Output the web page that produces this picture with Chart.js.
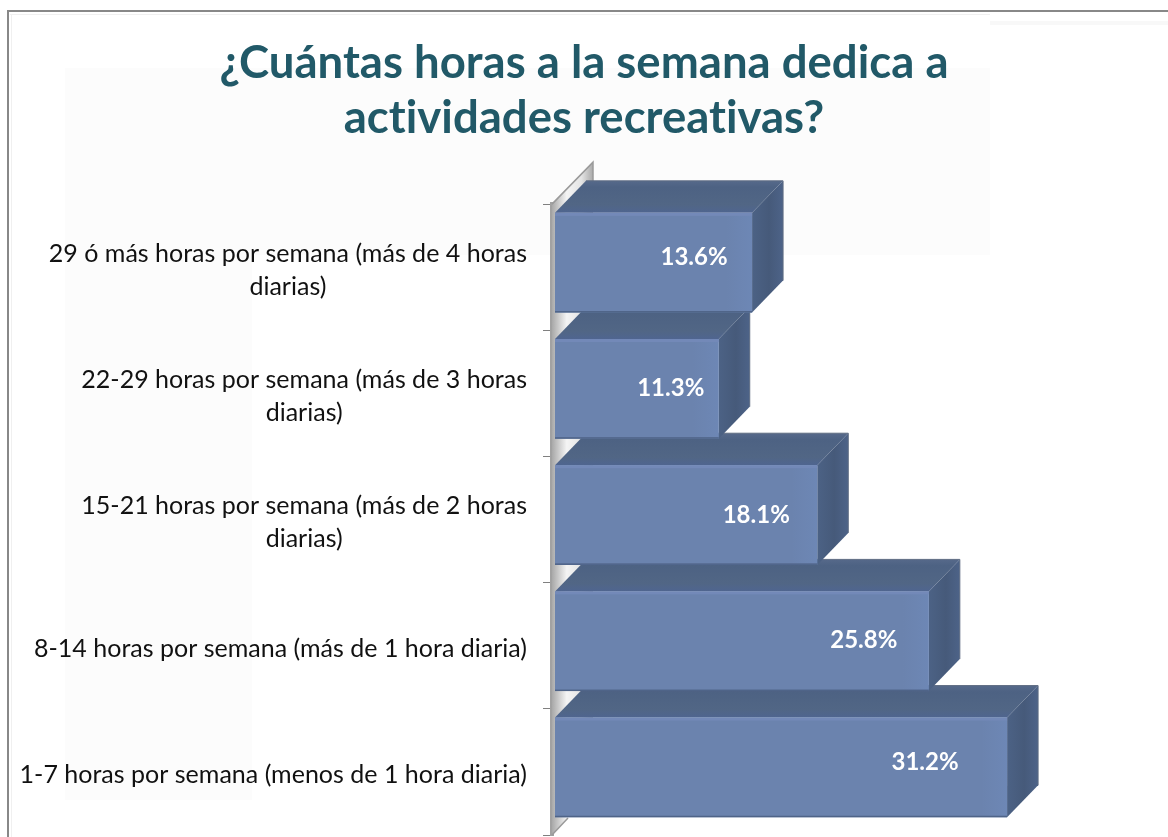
<!DOCTYPE html>
<html><head><meta charset="utf-8">
<style>html,body{margin:0;padding:0;background:#fff}#w{position:absolute;left:0;top:0;width:1168px;height:837px}</style>
<script src="https://cdn.jsdelivr.net/npm/chart.js@4"></script>
</head><body><div id="w"><canvas id="c" width="1168" height="837"></canvas></div>
<script>
const titleLines = ['¿Cuántas horas a la semana dedica a', 'actividades recreativas?'];
const categories = [
  ['29 ó más horas por semana (más de 4 horas', 'diarias)'],
  ['22-29 horas por semana (más de 3 horas', 'diarias)'],
  ['15-21 horas por semana (más de 2 horas', 'diarias)'],
  '8-14 horas por semana (más de 1 hora diaria)',
  '1-7 horas por semana (menos de 1 hora diaria)'
];
const percentages = [13.6, 11.3, 18.1, 25.8, 31.2];

const DEPTH_X = 31, DEPTH_Y = 32, LIFT = 4.5, TICK_DROP = 3;
const LABEL_INSETS = [58, 48, 61, 65, 82];
const LABEL_RAISE = [5.5, 1, 0, 1, 5];
const LABEL_FONT = 'Lato';

function poly(ctx, pts, fill) {
  ctx.beginPath();
  pts.forEach((p, i) => i ? ctx.lineTo(p[0], p[1]) : ctx.moveTo(p[0], p[1]));
  ctx.closePath();
  ctx.fillStyle = fill;
  ctx.fill();
}

const frame = {
  id: 'frame',
  beforeDraw(chart) {
    const ctx = chart.ctx;
    ctx.letterSpacing = '0.01px';
    ctx.save();
    ctx.fillStyle = '#fff';
    ctx.fillRect(0, 0, 1168, 837);
    ctx.fillStyle = '#fcfcfc';
    ctx.fillRect(65, 68, 925, 187);
    ctx.fillRect(65, 255, 187, 545);
    ctx.fillStyle = '#f8f8f8';
    ctx.fillRect(990, 21, 178, 4);
    ctx.fillStyle = '#888';
    ctx.fillRect(7, 10, 1161, 2);
    ctx.fillRect(7, 10, 2, 827);
    ctx.fillStyle = '#f0f0f0';
    ctx.fillRect(10, 14, 980, 1);
    ctx.fillRect(11, 14, 1, 823);
    ctx.restore();
  }
};

const tickLayout = {
  id: 'tickLayout',
  beforeDraw(chart) {
    const s = chart.scales.y, ctx = chart.ctx;
    const right = s.right - s.options.grid.tickLength - s.options.ticks.padding;
    ctx.save();
    ctx.font = s._resolveTickFontOptions(0).string;
    s.getLabelItems().forEach(item => {
      const lines = [].concat(item.label);
      const w = Math.max(...lines.map(l => ctx.measureText(l).width));
      item.options.textAlign = 'center';
      item.options.translation = [right - w / 2, item.options.translation[1] + TICK_DROP];
    });
    ctx.restore();
  }
};

const depthBars = {
  id: 'depthBars',
  beforeDatasetsDraw(chart) {
    const ctx = chart.ctx, a = chart.chartArea;
    const bars = chart.getDatasetMeta(0).data;
    ctx.save();
    const wl = a.left, wt = a.top, wb = a.bottom;
    const g = ctx.createLinearGradient(wl, 0, wl + DEPTH_X + 11, 0);
    g.addColorStop(0, '#a9a9a9');
    g.addColorStop(0.35, '#f4f4f4');
    g.addColorStop(0.7, '#e4e4e4');
    g.addColorStop(1, '#a4a4a4');
    poly(ctx, [[wl, wt], [wl + 41, wt - 42], [wl + 41, wb - 44], [wl, wb]], g);
    ctx.strokeStyle = '#9a9a9a';
    ctx.lineWidth = 1.5;
    ctx.beginPath();
    ctx.moveTo(wl, wt); ctx.lineTo(wl + 41, wt - 42); ctx.lineTo(wl + 41, wt - 20);
    ctx.moveTo(wl, wb); ctx.lineTo(wl + 16, wb - 17);
    ctx.stroke();

    ctx.translate(0, -LIFT);
    for (let i = bars.length - 1; i >= 0; i--) {
      const b = bars[i], h = b.height / 2;
      const l = b.base, r = b.x, t = b.y - h, bt = b.y + h;
      const tg = ctx.createLinearGradient(0, t - DEPTH_Y, 0, t);
      tg.addColorStop(0, '#56698a');
      tg.addColorStop(0.2, '#4d6283');
      tg.addColorStop(0.75, '#516685');
      tg.addColorStop(1, '#4f6590');
      poly(ctx, [[l, t], [l + DEPTH_X, t - DEPTH_Y], [r + DEPTH_X, t - DEPTH_Y], [r, t]], tg);
      const sg = ctx.createLinearGradient(r, 0, r + DEPTH_X, 0);
      sg.addColorStop(0, '#4c6285');
      sg.addColorStop(0.55, '#465a7a');
      sg.addColorStop(1, '#4d6388');
      poly(ctx, [[r, t], [r + DEPTH_X, t - DEPTH_Y], [r + DEPTH_X, bt - DEPTH_Y], [r, bt]], sg);
      ctx.strokeStyle = '#5e6c82';
      ctx.lineWidth = 1;
      ctx.lineJoin = 'round';
      ctx.beginPath();
      ctx.moveTo(l + DEPTH_X, t - DEPTH_Y);
      ctx.lineTo(r + DEPTH_X, t - DEPTH_Y);
      ctx.lineTo(r + DEPTH_X, bt - DEPTH_Y);
      ctx.stroke();
    }
  },
  afterDatasetsDraw(chart, args, opts) {
    const ctx = chart.ctx;
    const bars = chart.getDatasetMeta(0).data;
    bars.forEach((b, i) => {
      const h = b.height / 2, t = b.y - h, bt = b.y + h, l = b.base, r = b.x;
      const band = ctx.createLinearGradient(r - 26, 0, r, 0);
      band.addColorStop(0, 'rgba(112,140,190,0)');
      band.addColorStop(1, 'rgba(112,140,190,0.45)');
      ctx.fillStyle = band;
      ctx.fillRect(r - 26, t, 26, bt - t);
      ctx.fillStyle = '#7389b8';
      ctx.fillRect(l, t, r - l, 3);
      ctx.fillStyle = '#4f6488';
      ctx.fillRect(l, bt - 1.5, r - l, 1.5);
      ctx.fillStyle = '#fff';
      ctx.font = 'bold 24px ' + LABEL_FONT;
      ctx.textAlign = 'center';
      ctx.textBaseline = 'middle';
      ctx.fillText(percentages[i].toFixed(1) + '%', r - opts.insets[i], b.y - opts.raise[i]);
    });
    ctx.restore();
  }
};

new Chart(document.getElementById('c'), {
  type: 'bar',
  data: {
    labels: categories,
    datasets: [{
      data: percentages,
      backgroundColor: '#6b83ae',
      borderWidth: 0,
      barPercentage: 0.79,
      categoryPercentage: 1
    }]
  },
  plugins: [frame, tickLayout, depthBars],
  options: {
    indexAxis: 'y',
    responsive: false,
    animation: false,
    layout: { padding: { left: 0, right: 0, top: 0, bottom: 2 } },
    plugins: {
      legend: { display: false },
      tooltip: { enabled: false },
      depthBars: { insets: LABEL_INSETS, raise: LABEL_RAISE },
      title: {
        display: true,
        text: titleLines,
        color: '#215968',
        font: { family: LABEL_FONT, size: 45.5, weight: 'bold', lineHeight: 1.21 },
        padding: { top: 35.5, bottom: 58.5 }
      }
    },
    scales: {
      x: { display: false, min: -0.207, max: 42.305 },
      y: {
        afterFit(s) { s.width = 552; s.paddingTop = 0; s.paddingBottom = 0; },
        border: { color: '#a2a2a2', width: 4 },
        grid: { drawOnChartArea: false, color: '#808080', tickLength: 9, tickWidth: 1 },
        ticks: { color: '#111', padding: 16, autoSkip: false, maxRotation: 0, minRotation: 0,
                 font: { family: LABEL_FONT, size: 25, lineHeight: 1.32 } }
      }
    }
  }
});
</script></body></html>
